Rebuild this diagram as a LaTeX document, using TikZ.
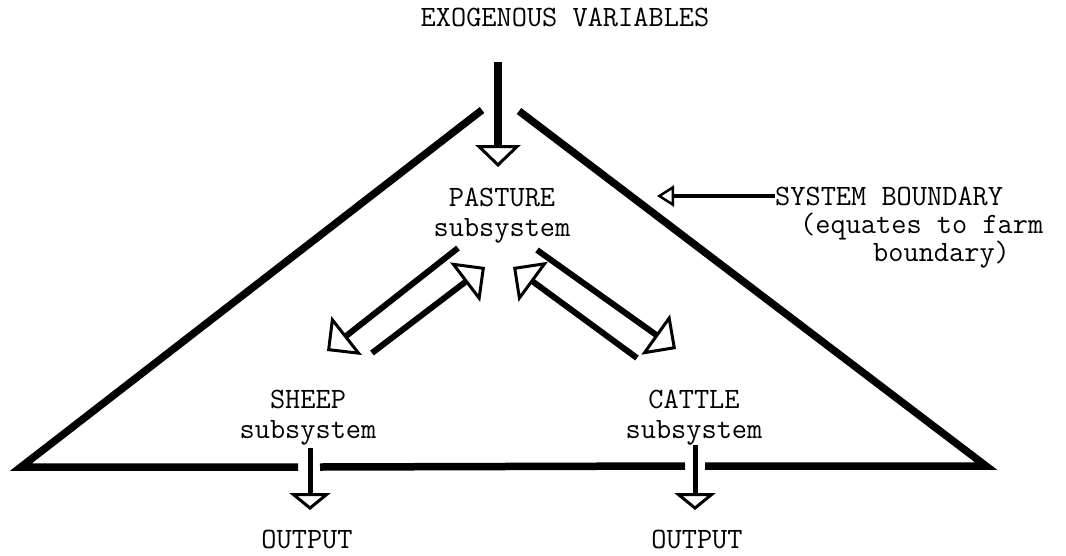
\documentclass[tikz,border=0pt]{standalone}
\usepackage{fontspec}
\usetikzlibrary{arrows.meta}
\tikzset{
  boundary/.style={line width=7.5pt, line join=miter},
  mainflow/.style={line width=8pt, -{Triangle[open, length=22pt, width=45pt, line width=3pt]}},
  subflow/.style={line width=6pt, -{Triangle[open, length=25pt, width=49pt, line width=3pt]}},
  outflow/.style={line width=5pt, -{Triangle[open, length=17pt, width=41pt, line width=3pt]}},
  pointer/.style={line width=4pt, -{Triangle[open, length=17pt, width=21pt, line width=2.5pt]}},
  typed/.style={font=\ttfamily\fontsize{29.5}{30}\selectfont, inner sep=0pt, align=center},
}
\begin{document}
\begin{tikzpicture}[x=1pt, y=-1pt]
    \fill[white] (0,0) rectangle (1066,555);

    \coordinate (apexl) at (482,110);
    \coordinate (apexr) at (519,111);
    \coordinate (cornl) at (21,467);
    \coordinate (cornr) at (986,466);
    \coordinate (gapsl) at (298,467);
    \coordinate (gapsr) at (320,467);
    \coordinate (gapcl) at (685,466);
    \coordinate (gapcr) at (705,466);

    \coordinate (exoin) at (498,62);
    \coordinate (pastin) at (498,167);
    \coordinate (p2sa) at (458,248); \coordinate (p2sb) at (327,351);
    \coordinate (s2pa) at (372,353); \coordinate (s2pb) at (485,267);
    \coordinate (c2pa) at (637,358); \coordinate (c2pb) at (513,267);
    \coordinate (p2ca) at (537,250); \coordinate (p2cb) at (676,349);
    \coordinate (sout) at (310,448); \coordinate (soutb) at (310,510);
    \coordinate (cout) at (695,445); \coordinate (coutb) at (695,510);
    \coordinate (sbtip) at (657,196);

    % farm boundary
    \draw[boundary] (apexl) -- (cornl) -- (gapsl);
    \draw[boundary] (gapsr) -- (gapcl);
    \draw[boundary] (gapcr) -- (cornr) -- (apexr);

    \node[typed] (exo) at (565,17) {EXOGENOUS VARIABLES};
    \node[typed, anchor=north] (pasture) at (502,188) {PASTURE\\subsystem};
    \node[typed, anchor=north] (sheep) at (308,390) {SHEEP\\subsystem};
    \node[typed, anchor=north] (cattle) at (694,390) {CATTLE\\subsystem};
    \node[typed] (outs) at (307,539) {OUTPUT};
    \node[typed] (outc) at (697,539) {OUTPUT};
    \node[typed, anchor=west] (sb) at (775,196) {SYSTEM BOUNDARY};
    \node[typed, anchor=north west, align=left, font=\ttfamily\fontsize{29.5}{27}\selectfont] (sbnote) at (800,213) {(equates to farm\\\hspace*{73pt}boundary)};

    \draw[mainflow] (exoin) -- (pastin);
    \draw[subflow] (p2sa) -- (p2sb);
    \draw[subflow] (s2pa) -- (s2pb);
    \draw[subflow] (c2pa) -- (c2pb);
    \draw[subflow] (p2ca) -- (p2cb);
    \draw[outflow] (sout) -- (soutb);
    \draw[outflow] (cout) -- (coutb);
    \draw[pointer] (sb.west) -- (sbtip);
\end{tikzpicture}
\end{document}
